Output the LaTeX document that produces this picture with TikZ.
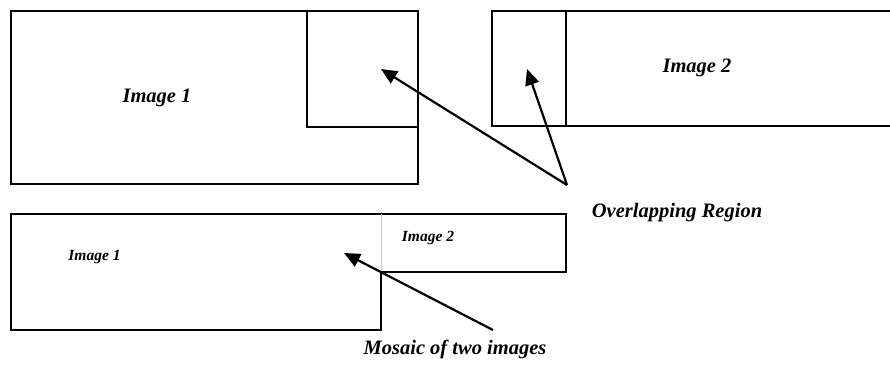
\documentclass[tikz,border=0pt]{standalone}
\usepackage{fontspec}
\setmainfont{Liberation Serif}
\usetikzlibrary{arrows.meta}
\tikzset{
  box/.style={draw=black,line width=1.6pt},
  pointer/.style={draw=black,line width=2.2pt,-{Triangle[length=16pt,width=14pt]}},
  biglabel/.style={font=\fontsize{20.5}{24}\selectfont\bfseries\itshape,inner sep=0pt,anchor=base},
  smalllabel/.style={font=\fontsize{15.5}{18}\selectfont\bfseries\itshape,inner sep=0pt,anchor=base}
}
\begin{document}
\begin{tikzpicture}[x=1pt,y=-1pt]
\useasboundingbox (0,0) rectangle (890,365);
\clip (0,0) rectangle (890,365);
% top left image 1 with overlap region
\draw[box] (11,11) rectangle (418,184);
\draw[box] (307,11) -- (307,127) -- (418,127);
% top right image 2 with overlap region
\draw[box] (492,11) rectangle (900,126);
\draw[box] (566,11) -- (566,126);
% mosaic
\draw[box] (11,214) -- (566,214) -- (566,272) -- (381,272) -- (381,330) -- (11,330) -- cycle;
\draw[gray!40,line width=0.6pt] (381,214) -- (381,272);
% labels
\node[biglabel] (img1) at (157,102) {Image 1};
\node[biglabel] (img2) at (697,72) {Image 2};
\node[biglabel] (ovl) at (677,217) {Overlapping Region};
\node[biglabel] (mos) at (455,354) {Mosaic of two images};
\node[smalllabel] (mimg1) at (94.5,260) {Image 1};
\node[smalllabel] (mimg2) at (428,241) {Image 2};
% arrow end points
\coordinate (ovtail) at (567,185);
\coordinate (ovtip1) at (381,69);
\coordinate (ovtip2) at (527,69);
\coordinate (mostail) at (493,330);
\coordinate (mostip) at (344,253);
\draw[pointer] (ovtail) -- (ovtip1);
\draw[pointer] (ovtail) -- (ovtip2);
\draw[pointer] (mostail) -- (mostip);
\end{tikzpicture}
\end{document}
